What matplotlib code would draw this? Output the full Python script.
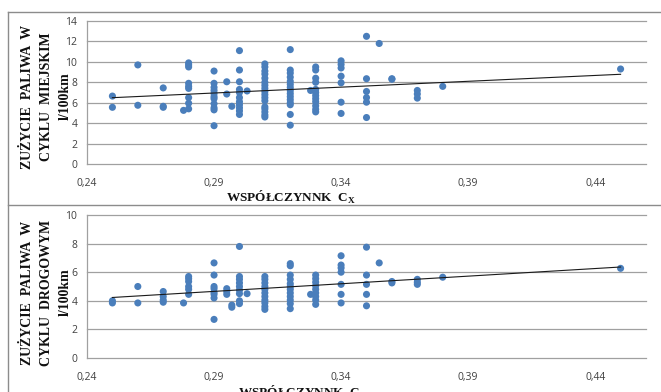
import numpy as np
import matplotlib
matplotlib.use("Agg")
import matplotlib.pyplot as plt
from matplotlib.lines import Line2D

# Drag coefficient columns and fuel consumption readings (l/100km)
cx_columns = [0.25, 0.26, 0.27, 0.278, 0.28, 0.29, 0.295, 0.297, 0.30, 0.303,
              0.31, 0.32, 0.328, 0.33, 0.34, 0.35, 0.355, 0.36, 0.37, 0.38, 0.45]

city_fuel = [
    [6.65, 5.55],
    [9.7, 5.75],
    [7.45, 5.65, 5.55],
    [5.25],
    [9.9, 9.7, 9.5, 7.9, 7.6, 7.4, 6.5, 5.95, 5.4],
    [9.1, 7.9, 7.5, 7.2, 6.9, 6.6, 6.4, 5.9, 5.5, 5.3, 3.75],
    [8.05, 6.85],
    [5.65],
    [11.1, 9.2, 8.05, 7.3, 7.0, 6.5, 6.1, 5.8, 5.5, 5.2, 4.85],
    [7.15],
    [9.8, 9.5, 9.1, 8.8, 8.4, 8.0, 7.7, 7.4, 7.1, 6.8, 6.5, 6.2, 5.6, 5.4, 5.1, 4.8, 4.6],
    [11.2, 9.2, 8.9, 8.5, 8.1, 7.8, 7.5, 7.2, 6.9, 6.6, 6.3, 6.0, 5.8, 4.85, 3.8],
    [7.2],
    [9.5, 9.2, 8.4, 8.0, 7.3, 7.0, 6.7, 6.4, 6.1, 5.7, 5.35, 5.1],
    [10.1, 9.75, 9.4, 8.6, 7.95, 6.05, 4.95],
    [12.5, 8.35, 7.1, 6.5, 6.05, 4.55],
    [11.8],
    [8.35, 8.3],
    [7.2, 6.85, 6.45],
    [7.6],
    [9.3],
]

road_fuel = [
    [4.0, 3.85],
    [5.0, 3.85],
    [4.65, 4.3, 4.05, 3.9],
    [3.85],
    [5.7, 5.55, 5.35, 5.0, 4.8, 4.45],
    [6.65, 5.8, 5.0, 4.85, 4.6, 4.45, 4.2, 2.7],
    [4.85, 4.65, 4.45],
    [3.7, 3.55],
    [7.8, 5.7, 5.5, 5.25, 5.0, 4.75, 4.5, 4.0, 3.8],
    [4.5],
    [5.7, 5.5, 5.25, 5.0, 4.8, 4.55, 4.3, 4.05, 3.85, 3.6, 3.4],
    [6.6, 6.45, 5.8, 5.5, 5.2, 5.0, 4.8, 4.55, 4.3, 4.05, 3.8, 3.45],
    [4.45],
    [5.8, 5.55, 5.3, 5.05, 4.8, 4.55, 4.3, 4.05, 3.75],
    [7.15, 6.5, 6.3, 6.0, 5.15, 4.45, 3.85],
    [7.75, 5.8, 5.15, 4.45, 3.65],
    [6.65],
    [5.35, 5.25],
    [5.5, 5.3, 5.15],
    [5.65],
    [6.27],
]

x_ticks = [0.24, 0.29, 0.34, 0.39, 0.44]
x_tick_labels = ["0,24", "0,29", "0,34", "0,39", "0,44"]
city_ylabel = ["ZUŻYCIE  PALIWA  W", "CYKLU  MIEJSKIM", "l/100km"]
road_ylabel = ["ZUŻYCIE  PALIWA  W", "CYKLU  DROGOWYM", "l/100km"]
xlabel_text = "WSPÓŁCZYNNK  C$_{\\mathregular{X}}$"

W, H = 661, 392
fig = plt.figure(figsize=(W / 100, H / 100), dpi=100)
fig.patch.set_facecolor("white")

MARKER = "#4a7ebb"
GRID = "#a0a0a0"
TICK_TXT = "#404040"
SERIF = "Liberation Serif"
SANS = "Open Sans"
LABEL_X = [28, 47, 65.5]  # pixel centres of the three rotated label lines


def flatten(cols, groups):
    xs, ys = [], []
    for c, vals in zip(cols, groups):
        for v in vals:
            xs.append(c)
            ys.append(v)
    return np.array(xs), np.array(ys)


def panel(rect, values, ymax, ystep, ylabel_lines, ylabel_y, xlabel_x, xlabel_y):
    ax = fig.add_axes(rect)
    x, y = flatten(cx_columns, values)
    ax.set_xlim(0.24, 0.46)
    ax.set_ylim(0, ymax)
    yt = np.arange(0, ymax + 0.1, ystep)
    ax.set_yticks(yt)
    ax.set_yticklabels([str(int(t)) for t in yt])
    ax.set_xticks(x_ticks)
    ax.set_xticklabels(x_tick_labels)
    for t in yt:
        ax.axhline(t, color=GRID, lw=0.9, zorder=1, clip_on=False)
    for s in ["top", "right", "bottom"]:
        ax.spines[s].set_visible(False)
    ax.spines["left"].set_color(GRID)
    ax.spines["left"].set_linewidth(0.9)
    ax.tick_params(axis="both", length=0, labelsize=7.5, labelcolor=TICK_TXT)
    ax.tick_params(axis="y", pad=7)
    ax.tick_params(axis="x", pad=10)
    for lab in ax.get_xticklabels() + ax.get_yticklabels():
        lab.set_family(SANS)

    ax.scatter(x, y, s=26, color=MARKER, edgecolors="none", zorder=3, clip_on=False)

    # linear trend line over the data range
    k, b = np.polyfit(x, y, 1)
    xl = np.array([x.min(), x.max()])
    ax.plot(xl, k * xl + b, color="#1a1a1a", lw=0.8, zorder=4)

    for px, line in zip(LABEL_X, ylabel_lines):
        fig.text(px / W, ylabel_y, line, rotation=90, ha="center", va="center",
                 family=SERIF, weight="bold", fontsize=10, color="#111111")
    fig.text(xlabel_x, xlabel_y, xlabel_text, ha="center", va="top",
             family=SERIF, weight="bold", fontsize=9.5, color="#111111")
    return ax


left = 87 / W
width = (646 - 87) / W
hgt = 143 / H
panel([left, 1 - 164 / H, width, hgt], city_fuel, 14, 2, city_ylabel,
      1 - 96.5 / H, 291 / W, 1 - 189 / H)
panel([left, 1 - 358 / H, width, hgt], road_fuel, 10, 2, road_ylabel,
      1 - 292.5 / H, 303 / W, 1 - 384 / H)

# outer frames of the two chart boxes
FRAME = "#8c8c8c"
x0 = 8 / W
fig.add_artist(Line2D([x0, x0], [0, 1 - 12 / H], color=FRAME, lw=1.0,
                      transform=fig.transFigure))
for yy in (12, 205):
    fig.add_artist(Line2D([x0, 1], [1 - yy / H, 1 - yy / H], color=FRAME,
                          lw=1.0, transform=fig.transFigure))

fig.savefig("out.png", dpi=100, facecolor="white")
